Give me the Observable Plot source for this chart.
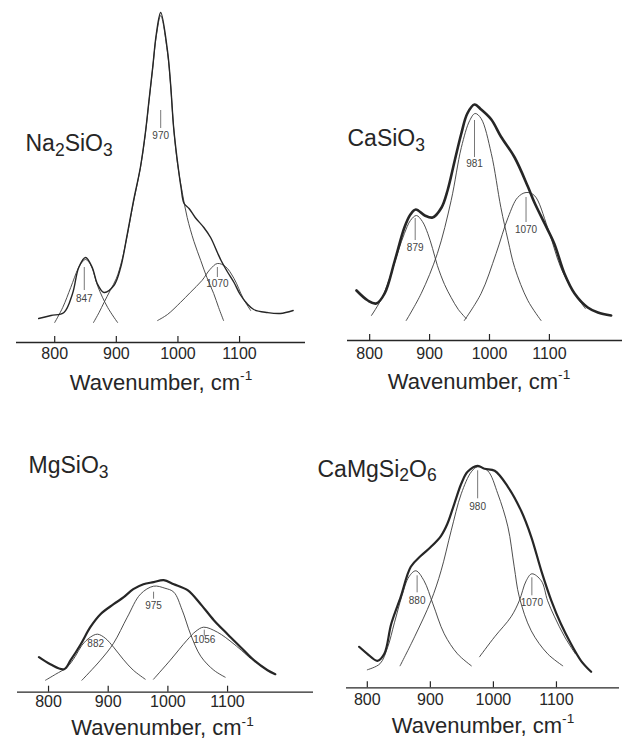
<!DOCTYPE html>
<html><head><meta charset="utf-8">
<script src="https://cdn.jsdelivr.net/npm/d3@7"></script>
<script src="https://cdn.jsdelivr.net/npm/@observablehq/plot@0.6"></script>
<style>
body{margin:0;background:#fff;}
#wrap{position:relative;width:628px;height:745px;overflow:hidden;}
#wrap svg{position:absolute;}
</style></head><body><div id="wrap"></div>
<script>
const xTicks = [800, 900, 1000, 1100];
const axisTitle = "Wavenumber, cm^{-1}";
const titles = ["Na_{2}SiO_{3}", "CaSiO_{3}", "MgSiO_{3}", "CaMgSi_{2}O_{6}"];

// Na2SiO3 : [wavenumber, intensity]
const naSpectrum = [[774,24],[794,27],[815,30],[829,49],[839,75],[850,85],[861,75],[869,59],[880,50],[896,57],[907,75],[918,109],[928,142],[939,175],[947,209],[953,242],[959,275],[965,309],[972,330],[983,292],[988,259],[993,215],[999,182],[1005,155],[1010,139],[1018,134],[1028,125],[1042,115],[1053,105],[1064,90],[1070,82],[1080,71],[1091,60],[1101,48],[1112,39],[1123,33],[1145,30],[1166,29],[1187,32]];
const naBand847 = [[800,20],[813,35],[826,55],[838,74],[844,80],[850,83],[856,80],[861,74],[870,56],[886,35],[902,20]];
const naBand970 = [[863,20],[872,30],[880,40],[890,52],[900,64],[909,82],[918,108],[928,141],[939,174],[947,208],[953,241],[959,274],[965,307],[972,327],[983,290],[988,258],[993,215],[999,180],[1007,150],[1015,125],[1026,101],[1037,82],[1047,65],[1058,49],[1066,35],[1074,22]];
const naBand1070 = [[967,22],[983,28],[1004,40],[1020,50],[1039,62],[1052,73],[1064,79],[1077,76],[1091,64],[1106,44],[1118,32]];
const naPeaks = ["847","970","1070"];
const naPeakAt = [848,972,1064];
const naPeakLabelY = [44,207,59];
const naLeaderTop = [75,232,75];
const naLeaderBottom = [52,214,65];

// CaSiO3
const caSpectrum = [[778,50],[797,40],[811,37],[825,47],[842,80],[858,113],[868,126],[877,131],[892,125],[905,123],[920,133],[930,150],[942,180],[953,207],[963,227],[975,236],[986,231],[1003,221],[1019,204],[1042,183],[1064,154],[1075,138],[1092,117],[1108,97],[1125,67],[1142,47],[1164,33],[1181,28],[1203,25]];
const caBand879 = [[803,25],[820,42],[836,67],[848,90],[858,107],[868,120],[878,125],[888,119],[897,107],[905,92],[913,75],[925,56],[936,43],[948,31],[961,22]];
const caBand981 = [[861,20],[886,47],[913,87],[936,140],[953,193],[967,220],[976,227],[986,222],[1003,187],[1019,133],[1031,100],[1042,73],[1064,40],[1086,20]];
const caBand1070 = [[958,20],[986,47],[1011,87],[1031,123],[1047,143],[1061,148],[1075,145],[1097,113],[1119,73],[1142,47],[1160,32]];
const caPeaks = ["879","981","1070"];
const caPeakAt = [876,975,1061];
const caPeakLabelY = [93,177,111];
const caLeaderTop = [122,220,143];
const caLeaderBottom = [100,183,118];

// MgSiO3
const mgSpectrum = [[784,35],[803,28],[826,23],[837,32],[854,48],[870,65],[887,78],[909,88],[926,95],[942,103],[959,108],[976,110],[993,112],[1010,108],[1033,102],[1055,88],[1077,72],[1100,58],[1122,45],[1144,32],[1167,22],[1180,18]];
const mgBand882 = [[795,12],[812,18],[831,25],[845,36],[856,47],[870,55],[882,58],[895,54],[909,45],[925,33],[942,22],[962,13]];
const mgBand975 = [[856,12],[887,32],[909,49],[932,75],[954,98],[976,106],[995,104],[1010,100],[1024,82],[1038,58],[1055,36],[1077,22],[1096,15]];
const mgBand1056 = [[976,13],[1004,32],[1032,52],[1047,61],[1060,65],[1083,60],[1111,48],[1138,34]];
const mgPeaks = ["882","975","1056"];
const mgPeakAt = [879,976,1061];
const mgPeakLabelY = [48,86,52];
const mgLeaderTop = [NaN,100,62];
const mgLeaderBottom = [NaN,93,56];

// CaMgSi2O6
const cmSpectrum = [[787,41],[800,34],[816,27],[827,34],[838,64],[853,91],[869,121],[885,132],[901,141],[917,152],[927,164],[938,184],[949,204],[959,216],[975,222],[986,219],[1002,217],[1023,201],[1044,177],[1060,151],[1076,117],[1092,87],[1107,64],[1123,44],[1139,27],[1155,16]];
const cmBand880 = [[800,18],[820,24],[832,40],[843,65],[855,92],[866,111],[877,117],[890,107],[904,84],[922,54],[943,34],[965,22]];
const cmBand980 = [[852,22],[875,51],[901,87],[917,117],[933,157],[949,194],[965,216],[975,221],[991,217],[1007,194],[1023,161],[1033,121],[1041,91],[1060,57],[1086,34],[1110,22]];
const cmBand1070 = [[978,31],[1002,51],[1028,71],[1041,87],[1052,107],[1061,114],[1076,107],[1086,87],[1097,71],[1113,51],[1130,34]];
const cmPeaks = ["880","980","1070"];
const cmPeakAt = [879,975,1061];
const cmPeakLabelY = [87,181,85];
const cmLeaderTop = [112,217,110];
const cmLeaderBottom = [95,189,92];

function peakTable(names, at, ly, lt, lb) {
  return names.map((n, i) => ({name: n, w: at[i], ly: ly[i], top: lt[i], bottom: lb[i]}));
}

const panels = [
  {title: titles[0], spectrum: naSpectrum, bands: [naBand847, naBand970, naBand1070],
   peaks: peakTable(naPeaks, naPeakAt, naPeakLabelY, naLeaderTop, naLeaderBottom),
   left: 0, top: 0, W: 314, H: 400, axisY: 342, xd: [738, 1207], ml: 16, mr: 9, tickPad: 5,
   specWidth: 1.4, tDx: 9, tDy: 134.6, aDx: 0, aDy: 47},
  {title: titles[1], spectrum: caSpectrum, bands: [caBand879, caBand981, caBand1070],
   peaks: peakTable(caPeaks, caPeakAt, caPeakLabelY, caLeaderTop, caLeaderBottom),
   left: 314, top: 0, W: 314, H: 400, axisY: 340, xd: [763, 1222], ml: 33, mr: 6, tickPad: 7,
   specWidth: 2.6, tDx: 0, tDy: 129.6, aDx: -6, aDy: 48},
  {title: titles[2], spectrum: mgSpectrum, bands: [mgBand882, mgBand975, mgBand1056],
   peaks: peakTable(mgPeaks, mgPeakAt, mgPeakLabelY, mgLeaderTop, mgLeaderBottom),
   left: 0, top: 400, W: 314, H: 345, axisY: 291.7, xd: [748, 1244], ml: 17, mr: 1, tickPad: 3,
   specWidth: 2.2, tDx: 11, tDy: 56.6, aDx: -3, aDy: 43},
  {title: titles[3], spectrum: cmSpectrum, bands: [cmBand880, cmBand980, cmBand1070],
   peaks: peakTable(cmPeaks, cmPeakAt, cmPeakLabelY, cmLeaderTop, cmLeaderBottom),
   left: 314, top: 400, W: 314, H: 345, axisY: 287.3, xd: [767, 1200], ml: 32, mr: 9, tickPad: 6,
   specWidth: 2.2, tDx: -29, tDy: 60, aDx: 0, aDy: 45}
];

function rich(svg) {
  const NS = "http://www.w3.org/2000/svg";
  for (const t of svg.querySelectorAll("text")) {
    const s = t.textContent;
    if (!/[_^]\{/.test(s)) continue;
    const host = t.closest("[font-size]");
    const fs = host ? parseFloat(host.getAttribute("font-size")) : 16;
    t.textContent = "";
    const re = /([_^])\{([^}]*)\}|([^_^]+)/g;
    let m, shift = 0;
    while ((m = re.exec(s))) {
      const ts = document.createElementNS(NS, "tspan");
      let target;
      if (m[3]) { target = 0; ts.textContent = m[3]; }
      else if (m[1] === "_") { target = fs * 0.18; ts.textContent = m[2]; ts.setAttribute("font-size", fs * 0.76); }
      else { target = -fs * 0.43; ts.textContent = m[2]; ts.setAttribute("font-size", fs * 0.62); }
      if (target !== shift) ts.setAttribute("dy", target - shift);
      shift = target;
      t.appendChild(ts);
    }
  }
}

const wrap = document.getElementById("wrap");
const ink = "#262626";
for (const p of panels) {
  const svg = Plot.plot({
    width: p.W, height: p.H,
    marginLeft: p.ml, marginRight: p.mr, marginTop: 0, marginBottom: p.H - p.axisY,
    x: {domain: p.xd},
    y: {domain: [0, p.axisY], axis: null},
    style: {fontFamily: "'Liberation Sans', Arial, Helvetica, sans-serif", color: ink, background: "transparent", overflow: "visible"},
    marks: [
      Plot.ruleY([0], {stroke: ink, strokeWidth: 1.3}),
      Plot.axisX({ticks: xTicks, tickSize: 6, dy: -6, tickFormat: () => "", label: null, strokeWidth: 1.2, stroke: ink}),
      Plot.axisX({ticks: xTicks, tickSize: 0, tickPadding: p.tickPad, fontSize: 16, label: null, tickFormat: d => String(d), fill: ink}),
      ...p.bands.map(b => Plot.line(b, {x: d => d[0], y: d => d[1], curve: "catmull-rom", stroke: "#3a3a3a", strokeWidth: 0.9})),
      Plot.line(p.spectrum, {x: d => d[0], y: d => d[1], curve: "catmull-rom", stroke: ink, strokeWidth: p.specWidth, strokeLinejoin: "round"}),
      Plot.ruleX(p.peaks, {x: "w", y1: "top", y2: "bottom", stroke: "#555", strokeWidth: 0.8}),
      Plot.text(p.peaks, {x: "w", y: "ly", text: "name", fontSize: 10, fill: "#444"}),
      Plot.text([p.title], {text: d => d, frameAnchor: "top-left", textAnchor: "start", dx: p.tDx, dy: p.tDy, fontSize: 23, fill: ink}),
      Plot.text([axisTitle], {text: d => d, frameAnchor: "bottom", dx: p.aDx, dy: p.aDy, fontSize: 22, fill: ink})
    ]
  });
  svg.style.left = p.left + "px";
  svg.style.top = p.top + "px";
  wrap.appendChild(svg);
  rich(svg);
}
</script>
</body></html>
